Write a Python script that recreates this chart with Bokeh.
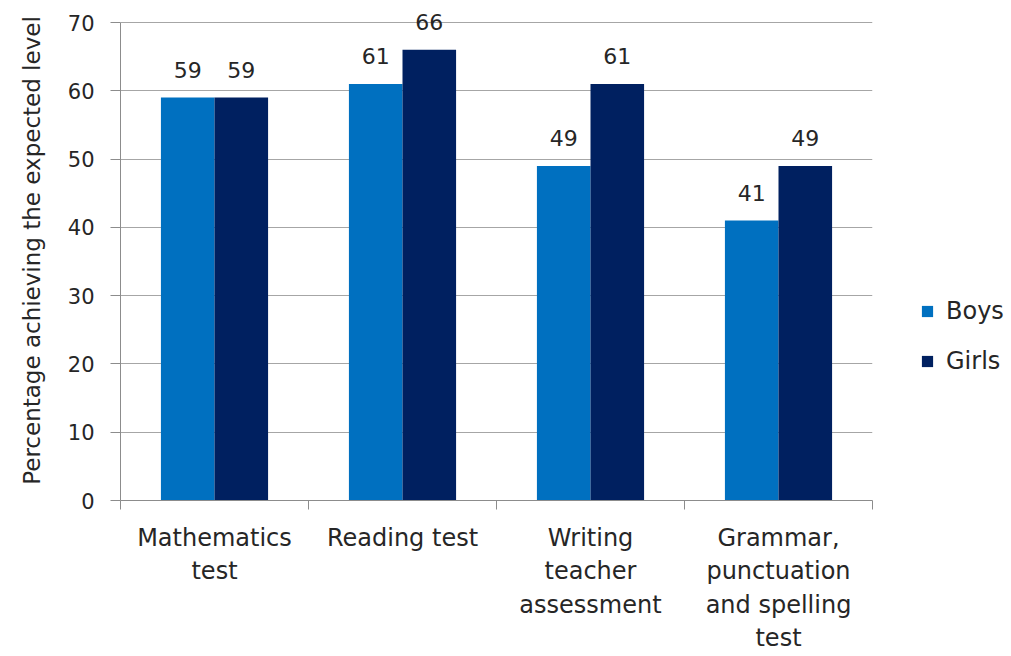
from bokeh.plotting import figure
from bokeh.models import ColumnDataSource, FixedTicker, Legend, LegendItem, Range1d
from bokeh.transform import dodge
from bokeh.embed import file_html
from bokeh.resources import INLINE

categories = ["Mathematics\ntest", "Reading test", "Writing\nteacher\nassessment",
              "Grammar,\npunctuation\nand spelling\ntest"]
boys = [59, 61, 49, 41]
girls = [59, 66, 61, 49]
y_ticks = [0, 10, 20, 30, 40, 50, 60, 70]

FONT = "DejaVu Sans"
TXT = "#262626"
BOYS_C = "#0070C0"
GIRLS_C = "#002060"
AX_C = "#8c8c8c"

centers = [i + 0.5 for i in range(len(categories))]
src = ColumnDataSource(dict(
    x=centers, boys=boys, girls=girls,
    boys_t=[str(v) for v in boys], girls_t=[str(v) for v in girls],
))

# frame extends a bit above 70 so the top data label is not clipped
y_top = 70 * 500 / 478
p = figure(frame_width=752, frame_height=500,
           min_border_left=120, min_border_right=131,
           min_border_top=0, min_border_bottom=148,
           x_range=Range1d(0, 4), y_range=Range1d(0, y_top),
           output_backend="svg", toolbar_location=None)
p.outline_line_color = None
p.background_fill_color = "white"

bw = 0.285
rb = p.vbar(x=dodge("x", -bw / 2, range=p.x_range), top="boys", width=bw, bottom=0,
            source=src, fill_color=BOYS_C, line_color=None)
rg = p.vbar(x=dodge("x", bw / 2, range=p.x_range), top="girls", width=bw, bottom=0,
            source=src, fill_color=GIRLS_C, line_color=None)

for col, tcol, off in (("boys", "boys_t", -bw / 2), ("girls", "girls_t", bw / 2)):
    p.text(x=dodge("x", off, range=p.x_range), y=col, text=tcol, source=src,
           text_align="center", text_baseline="bottom", y_offset=-20,
           text_font={"value": FONT}, text_font_size="22px", text_color=TXT)

# axes
xa = p.xaxis[0]
xa.ticker = FixedTicker(ticks=centers, minor_ticks=[0, 1, 2, 3, 4])
xa.major_label_overrides = {c: lab for c, lab in zip(centers, categories)}
xa.major_tick_out = 0
xa.major_tick_in = 0
xa.minor_tick_out = 9
xa.minor_tick_in = 0
xa.minor_tick_line_color = AX_C
xa.axis_line_color = AX_C
xa.major_label_text_font = FONT
xa.major_label_text_font_size = "24px"
xa.major_label_text_color = TXT
xa.major_label_standoff = 14

ya = p.yaxis[0]
ya.ticker = FixedTicker(ticks=y_ticks)
ya.bounds = (0, 70)
ya.axis_line_color = AX_C
ya.major_tick_line_color = AX_C
ya.major_tick_out = 10
ya.major_tick_in = 0
ya.minor_tick_line_color = None
ya.major_label_text_font = FONT
ya.major_label_text_font_size = "21px"
ya.major_label_text_color = TXT
ya.major_label_standoff = 16
ya.axis_label = "Percentage achieving the expected level"
ya.axis_label_text_font = FONT
ya.axis_label_text_font_size = "23px"
ya.axis_label_text_font_style = "normal"
ya.axis_label_text_color = TXT
ya.axis_label_standoff = 20

p.xgrid.grid_line_color = None
p.ygrid.grid_line_color = "#a6a6a6"
p.ygrid.ticker = FixedTicker(ticks=y_ticks)

legend = Legend(items=[LegendItem(label="Boys", renderers=[rb]),
                       LegendItem(label="Girls", renderers=[rg])],
                location=(48, 125), orientation="vertical",
                glyph_width=14, glyph_height=14, spacing=22,
                label_text_font=FONT, label_text_font_size="24px",
                label_text_color=TXT, border_line_color=None,
                background_fill_alpha=0, padding=0, margin=0,
                label_standoff=12)
p.add_layout(legend, "right")

open("out.html", "w").write(file_html(p, INLINE))
